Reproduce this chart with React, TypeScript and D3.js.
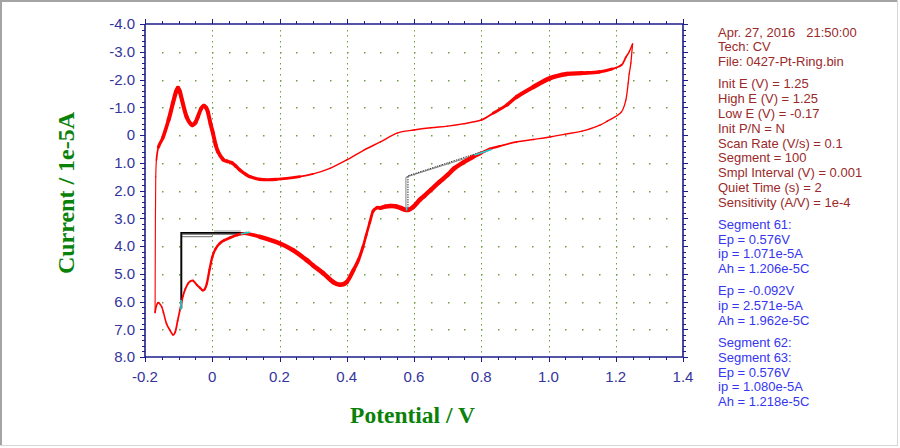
import React from "react";
import * as d3 from "d3";

// ---------- data ----------
const xTickValues = [-0.2, 0, 0.2, 0.4, 0.6, 0.8, 1.0, 1.2, 1.4];
const xTickLabels = ["-0.2", "0", "0.2", "0.4", "0.6", "0.8", "1.0", "1.2", "1.4"];
const yTickValues = [-4, -3, -2, -1, 0, 1, 2, 3, 4, 5, 6, 7, 8];
const yTickLabels = ["-4.0", "-3.0", "-2.0", "-1.0", "0", "1.0", "2.0", "3.0", "4.0", "5.0", "6.0", "7.0", "8.0"];

// anodic sweep (-0.17 V -> 1.25 V), [E (V), i (1e-5 A)]
const anodicE = [-0.17, -0.169, -0.168, -0.166, -0.16, -0.147, -0.13, -0.117, -0.108, -0.102, -0.096, -0.09, -0.076, -0.06, -0.05, -0.043, -0.033, -0.025, -0.018, -0.013, -0.005, 0.002, 0.01, 0.017, 0.032, 0.045, 0.058, 0.07, 0.082, 0.1, 0.112, 0.142, 0.19, 0.26, 0.3, 0.35, 0.4, 0.45, 0.5, 0.55, 0.6, 0.65, 0.7, 0.745, 0.8, 0.836, 0.876, 0.905, 0.955, 1.005, 1.055, 1.1, 1.15, 1.19, 1.217, 1.23, 1.24, 1.25];
const anodicI = [6.4, 3.0, 1.5, 0.9, 0.43, 0.1, -0.54, -1.15, -1.55, -1.7, -1.55, -1.26, -0.65, -0.36, -0.45, -0.65, -0.95, -1.05, -0.98, -0.83, -0.4, -0.07, 0.35, 0.6, 0.88, 0.95, 1.0, 1.12, 1.26, 1.42, 1.5, 1.6, 1.6, 1.5, 1.4, 1.2, 0.9, 0.55, 0.25, -0.07, -0.18, -0.26, -0.32, -0.4, -0.54, -0.79, -1.08, -1.37, -1.73, -2.05, -2.2, -2.23, -2.27, -2.38, -2.52, -2.8, -3.0, -3.28];

// cathodic sweep (1.25 V -> -0.17 V)
const cathodicE = [1.25, 1.245, 1.24, 1.237, 1.23, 1.217, 1.197, 1.175, 1.153, 1.1, 1.05, 1.005, 0.955, 0.905, 0.855, 0.826, 0.8, 0.775, 0.745, 0.72, 0.7, 0.675, 0.65, 0.63, 0.617, 0.597, 0.583, 0.57, 0.56, 0.545, 0.53, 0.515, 0.5, 0.49, 0.478, 0.468, 0.458, 0.448, 0.435, 0.42, 0.4, 0.38, 0.36, 0.33, 0.3, 0.28, 0.24, 0.2, 0.142, 0.1, 0.075, 0.053, 0.035, 0.023, 0.01, 0.0, -0.008, -0.016, -0.022, -0.028, -0.037, -0.046, -0.057, -0.065, -0.072, -0.08, -0.087, -0.096, -0.103, -0.11, -0.117, -0.125, -0.136, -0.145, -0.15, -0.157, -0.162, -0.167, -0.17];
const cathodicI = [-3.28, -2.6, -2.2, -1.87, -1.26, -0.83, -0.65, -0.5, -0.36, -0.14, -0.03, 0.07, 0.16, 0.25, 0.4, 0.5, 0.65, 0.8, 1.0, 1.2, 1.44, 1.7, 1.98, 2.2, 2.34, 2.6, 2.7, 2.68, 2.63, 2.57, 2.56, 2.58, 2.63, 2.62, 2.75, 3.17, 3.6, 4.04, 4.5, 4.87, 5.3, 5.4, 5.3, 4.98, 4.7, 4.5, 4.15, 3.9, 3.67, 3.55, 3.6, 3.7, 3.8, 3.9, 4.1, 4.4, 4.85, 5.35, 5.55, 5.6, 5.5, 5.4, 5.25, 5.27, 5.35, 5.55, 5.8, 6.3, 6.7, 7.1, 7.2, 7.05, 6.8, 6.4, 6.2, 6.07, 6.05, 6.2, 6.4];

// peak baselines drawn by the instrument software
const hBaseSeg61: [number, number][] = [[-0.093, 6.2], [-0.093, 3.52], [0.108, 3.52]];
const hBaseSeg63: [number, number][] = [[-0.091, 6.25], [-0.091, 3.56], [0.1, 3.56]];
const hBaseSeg62a: [number, number][] = [[-0.093, 3.66], [0.0, 3.66]];
const hBaseSeg62b: [number, number][] = [[0.005, 3.46], [0.085, 3.46]];
const oxBaseSeg61: [number, number][] = [[0.576, 2.7], [0.576, 1.52], [0.8, 0.66]];
const oxBaseSeg63: [number, number][] = [[0.582, 2.72], [0.582, 1.47], [0.8, 0.61]];
const tangentMarks: [number, number][][] = [
  [[0.78, 0.72], [0.83, 0.52]],
  [[0.085, 3.57], [0.112, 3.5]],
  [[-0.093, 5.95], [-0.093, 6.3]],
  [[0.578, 2.6], [0.578, 2.72]],
];

const infoRed = [
  ["Apr. 27, 2016   21:50:00", "Tech: CV", "File: 0427-Pt-Ring.bin"],
  ["Init E (V) = 1.25", "High E (V) = 1.25", "Low E (V) = -0.17", "Init P/N = N", "Scan Rate (V/s) = 0.1", "Segment = 100", "Smpl Interval (V) = 0.001", "Quiet Time (s) = 2", "Sensitivity (A/V) = 1e-4"],
];
const infoBlue = [
  ["Segment 61:", "Ep = 0.576V", "ip = 1.071e-5A", "Ah = 1.206e-5C"],
  ["Ep = -0.092V", "ip = 2.571e-5A", "Ah = 1.962e-5C"],
  ["Segment 62:", "Segment 63:", "Ep = 0.576V", "ip = 1.080e-5A", "Ah = 1.218e-5C"],
];

const xTitle = "Potential / V";
const yTitle = "Current / 1e-5A";

// ---------- layout / style ----------
const W = 900, H = 448;
const x = d3.scaleLinear().domain([-0.2, 1.4]).range([145, 683]);
const y = d3.scaleLinear().domain([-4, 8]).range([24, 357]);

const AXIS = "#1c1c8a";
const LABEL = "#34349c";
const GRID = "#6f9e3e";
const RED = "#ff0000";
const TXT_RED = "#9a2a2a";
const TXT_BLUE = "#3636f0";

// visual thickness of the overlapping cycles (style, as function of potential)
const anodicWidth = d3
  .scaleLinear()
  .domain([-0.17, -0.166, -0.155, -0.12, 0.0, 0.06, 0.2, 0.3, 0.8, 0.86, 0.95, 1.05, 1.15, 1.2, 1.25])
  .range([1.1, 1.2, 3.2, 4.2, 4, 3.5, 3, 1.4, 1.4, 3, 4.5, 4.5, 3.5, 2, 1.4])
  .clamp(true);
const cathodicWidth = d3
  .scaleLinear()
  .domain([-0.17, -0.05, 0.0, 0.1, 0.15, 0.4, 0.43, 0.46, 0.48, 0.52, 0.75, 0.82, 0.9, 1.2, 1.25])
  .range([1.5, 2, 2.4, 3, 4.5, 4.5, 3.5, 2.5, 3, 4.5, 4.5, 2.5, 1.5, 1.3, 1.3])
  .clamp(true);

const straight = d3
  .line<[number, number]>()
  .x((d) => x(d[0]))
  .y((d) => y(d[1]));

// Catmull-Rom segments, each with its own stroke width
function segments(E: number[], I: number[], wf: (e: number) => number) {
  const P = E.map((e, k) => [x(e), y(I[k])]);
  const n = P.length;
  const out: { d: string; w: number }[] = [];
  for (let k = 0; k < n - 1; k++) {
    const p0 = P[Math.max(0, k - 1)];
    const p1 = P[k];
    const p2 = P[k + 1];
    const p3 = P[Math.min(n - 1, k + 2)];
    const c1 = [p1[0] + (p2[0] - p0[0]) / 6, p1[1] + (p2[1] - p0[1]) / 6];
    const c2 = [p2[0] - (p3[0] - p1[0]) / 6, p2[1] - (p3[1] - p1[1]) / 6];
    const f = (v: number) => v.toFixed(2);
    out.push({
      d: `M${f(p1[0])},${f(p1[1])}C${f(c1[0])},${f(c1[1])} ${f(c2[0])},${f(c2[1])} ${f(p2[0])},${f(p2[1])}`,
      w: wf((E[k] + E[k + 1]) / 2),
    });
  }
  return out;
}

export default function App() {
  const an = segments(anodicE, anodicI, anodicWidth);
  const ca = segments(cathodicE, cathodicI, cathodicWidth);

  const xMinor = d3.range(-0.2, 1.4001, 0.05);
  const yMinor = d3.range(-4, 8.001, 0.2);
  const gridX = xTickValues.filter((v) => v > -0.19 && v < 1.39);
  const gridY = yTickValues.filter((v) => v > -3.9 && v < 7.9);

  const gridDots: JSX.Element[] = [];
  gridX.forEach((gx, a) => {
    yMinor.forEach((gy, b) => {
      if (gy <= -3.99 || gy >= 7.99) return;
      gridDots.push(
        <rect key={`gv${a}-${b}`} x={Math.round(x(gx))} y={Math.round(y(gy))} width={1} height={1.5} fill={GRID} />
      );
    });
  });
  gridY.forEach((gy, a) => {
    xMinor.forEach((gx, b) => {
      if (gx <= -0.19 || gx >= 1.39) return;
      gridDots.push(
        <rect key={`gh${a}-${b}`} x={Math.round(x(gx))} y={Math.round(y(gy))} width={1.5} height={1.5} fill={GRID} />
      );
    });
  });

  const LH = 14.8, GAP = 7.3;
  let cy = 32;
  const infoEls: JSX.Element[] = [];
  const groups = [
    ...infoRed.map((g) => ({ g, c: TXT_RED })),
    ...infoBlue.map((g) => ({ g, c: TXT_BLUE })),
  ];
  groups.forEach(({ g, c }, gi) => {
    if (gi > 0) cy += GAP;
    g.forEach((t, li) => {
      infoEls.push(
        <text key={`t${gi}-${li}`} x={718} y={cy + 4.6} fill={c} fontSize={13} fontFamily="'Liberation Sans', Arial, sans-serif" style={{ whiteSpace: "pre" }}>
          {t}
        </text>
      );
      cy += LH;
    });
  });

  const x0 = 145, x1 = 683, y0 = 24, y1 = 357;

  return (
    <svg width={W} height={H} style={{ position: "absolute", left: 0, top: 0, background: "#fff" }}>
      <rect x={0} y={0} width={W} height={H} fill="#fff" />
      <line x1={0} y1={1} x2={898} y2={1} stroke="#a4a4a4" strokeWidth={2} />
      <line x1={1} y1={0} x2={1} y2={446} stroke="#a4a4a4" strokeWidth={2} />
      <line x1={897.5} y1={0} x2={897.5} y2={446} stroke="#d6d6d6" strokeWidth={1} />
      <line x1={0} y1={445.5} x2={898} y2={445.5} stroke="#d6d6d6" strokeWidth={1} />

      <g>{gridDots}</g>

      <path d={straight(hBaseSeg62a) || ""} fill="none" stroke="#8a8a8a" strokeWidth={1.2} />
      <path d={straight(hBaseSeg62b) || ""} fill="none" stroke="#9a9a9a" strokeWidth={1} />
      <path d={straight(hBaseSeg63) || ""} fill="none" stroke="#111" strokeWidth={1.3} />
      <path d={straight(hBaseSeg61) || ""} fill="none" stroke="#000" strokeWidth={1.3} />
      <path d={straight(oxBaseSeg61) || ""} fill="none" stroke="#808080" strokeWidth={1} />
      <path d={straight(oxBaseSeg63) || ""} fill="none" stroke="#333" strokeWidth={1} strokeDasharray="1.5,1" />

      <g fill="none" stroke={RED} strokeLinecap="round" strokeLinejoin="round">
        {an.map((p, k) => (
          <path key={`a${k}`} d={p.d} strokeWidth={p.w} />
        ))}
        {ca.map((p, k) => (
          <path key={`c${k}`} d={p.d} strokeWidth={p.w} />
        ))}
      </g>

      {tangentMarks.map((m, k) => (
        <path key={`tm${k}`} d={straight(m) || ""} fill="none" stroke="#19d4d4" strokeWidth={1.6} />
      ))}

      <g stroke={AXIS} strokeWidth={1.6} fill="none">
        <line x1={x0} y1={y0} x2={x1} y2={y0} />
        <line x1={x0} y1={y1} x2={x1} y2={y1} />
        <line x1={x0} y1={y0} x2={x0} y2={y1} />
        <line x1={x1} y1={y0} x2={x1} y2={y1} />
      </g>
      <g stroke={AXIS} strokeWidth={1}>
        {xMinor.map((v, k) => {
          const major = Math.abs(v * 5 - Math.round(v * 5)) < 1e-6;
          const L = major ? 5 : 3;
          const px = Math.round(x(v)) + 0.5;
          return (
            <g key={`xm${k}`}>
              <line x1={px} y1={y1} x2={px} y2={y1 + L} />
              <line x1={px} y1={y0} x2={px} y2={y0 - L} />
            </g>
          );
        })}
        {yMinor.map((v, k) => {
          const major = Math.abs(v - Math.round(v)) < 1e-6;
          const L = major ? 5 : 3;
          const py = Math.round(y(v)) + 0.5;
          return (
            <g key={`ym${k}`}>
              <line x1={x0} y1={py} x2={x0 - L} y2={py} />
              <line x1={x1} y1={py} x2={x1 + L} y2={py} />
            </g>
          );
        })}
      </g>

      <g fill={LABEL} fontSize={15} fontFamily="'Liberation Sans', Arial, sans-serif">
        {xTickValues.map((v, k) => (
          <text key={`xl${k}`} x={x(v)} y={382} textAnchor="middle">
            {xTickLabels[k]}
          </text>
        ))}
        {yTickValues.map((v, k) => (
          <text key={`yl${k}`} x={135} y={y(v) + 5.4} textAnchor="end">
            {yTickLabels[k]}
          </text>
        ))}
      </g>

      <text x={412.5} y={423} textAnchor="middle" fill="#0a820a" fontSize={23.5} fontWeight="bold" fontFamily="'Liberation Serif', 'Times New Roman', serif">
        {xTitle}
      </text>
      <text transform="translate(74,193) rotate(-90)" textAnchor="middle" fill="#0a820a" fontSize={24} fontWeight="bold" fontFamily="'Liberation Serif', 'Times New Roman', serif">
        {yTitle}
      </text>

      {infoEls}
    </svg>
  );
}
